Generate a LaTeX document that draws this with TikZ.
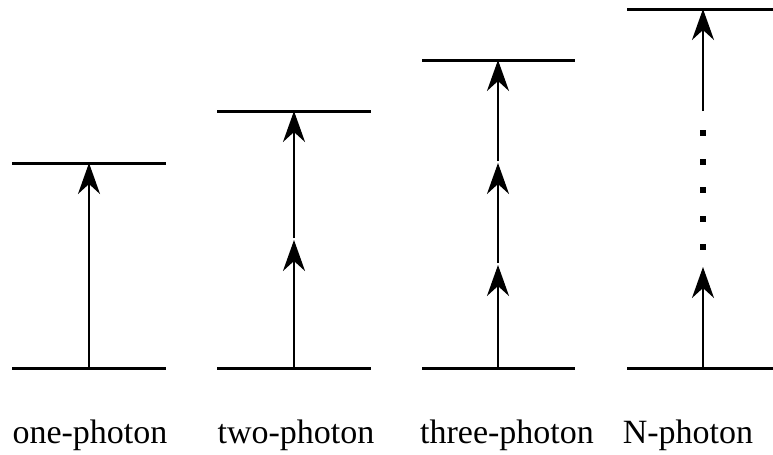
\documentclass[tikz,border=0pt]{standalone}
\usepackage{fontspec}
\setmainfont{Liberation Serif}
\usetikzlibrary{arrows.meta}

\begin{document}
\begin{tikzpicture}[x=0.5pt, y=-0.5pt,
    >={Stealth[length=15.5pt, width=11pt, inset=5pt]},
    level/.style={line width=1.5pt, black},
    photon/.style={->, line width=1.25pt, black, shorten <=-0.6pt},
    dotsq/.style={fill=black, minimum size=3pt, inner sep=0pt},
    tlab/.style={font=\fontsize{17}{20}\selectfont, anchor=base, inner sep=0pt},
]
    \useasboundingbox (0,0) rectangle (773,455);

    % one-photon
    \coordinate (g1) at (89,368);
    \coordinate (e1) at (89,163);
    \draw[level] (12,368) -- (166,368);
    \draw[level] (12,163) -- (166,163);
    \draw[photon] (g1) -- (e1);

    % two-photon
    \coordinate (g2) at (294,368);
    \coordinate (m2) at (294,240);
    \coordinate (e2) at (294,111);
    \draw[level] (217,368) -- (371,368);
    \draw[level] (217,111) -- (371,111);
    \draw[photon] (g2) -- (m2);
    \draw[photon, shorten <=1pt] (m2) -- (e2);

    % three-photon
    \coordinate (g3) at (498,368);
    \coordinate (m3a) at (498,265);
    \coordinate (m3b) at (498,163);
    \coordinate (e3) at (498,60);
    \draw[level] (422,368) -- (575,368);
    \draw[level] (422,60) -- (575,60);
    \draw[photon] (g3) -- (m3a);
    \draw[photon, shorten <=1pt] (m3a) -- (m3b);
    \draw[photon, shorten <=1pt] (m3b) -- (e3);

    % N-photon
    \coordinate (g4) at (703,368);
    \coordinate (m4a) at (703,267);
    \coordinate (m4b) at (703,110);
    \coordinate (e4) at (703,9);
    \draw[level] (627,368) -- (773,368);
    \draw[level] (627,9) -- (773,9);
    \draw[photon] (g4) -- (m4a);
    \draw[photon] (m4b) -- (e4);
    \foreach \k in {0,...,4}
        \node[dotsq] (d\k) at (703,133+28.5*\k) {};

    % labels
    \node[tlab] (l1) at (90,443) {one-photon};
    \node[tlab] (l2) at (296,443) {two-photon};
    \node[tlab] (l3) at (507,443) {three-photon};
    \node[tlab] (l4) at (688,443) {N-photon};

\end{tikzpicture}
\end{document}
